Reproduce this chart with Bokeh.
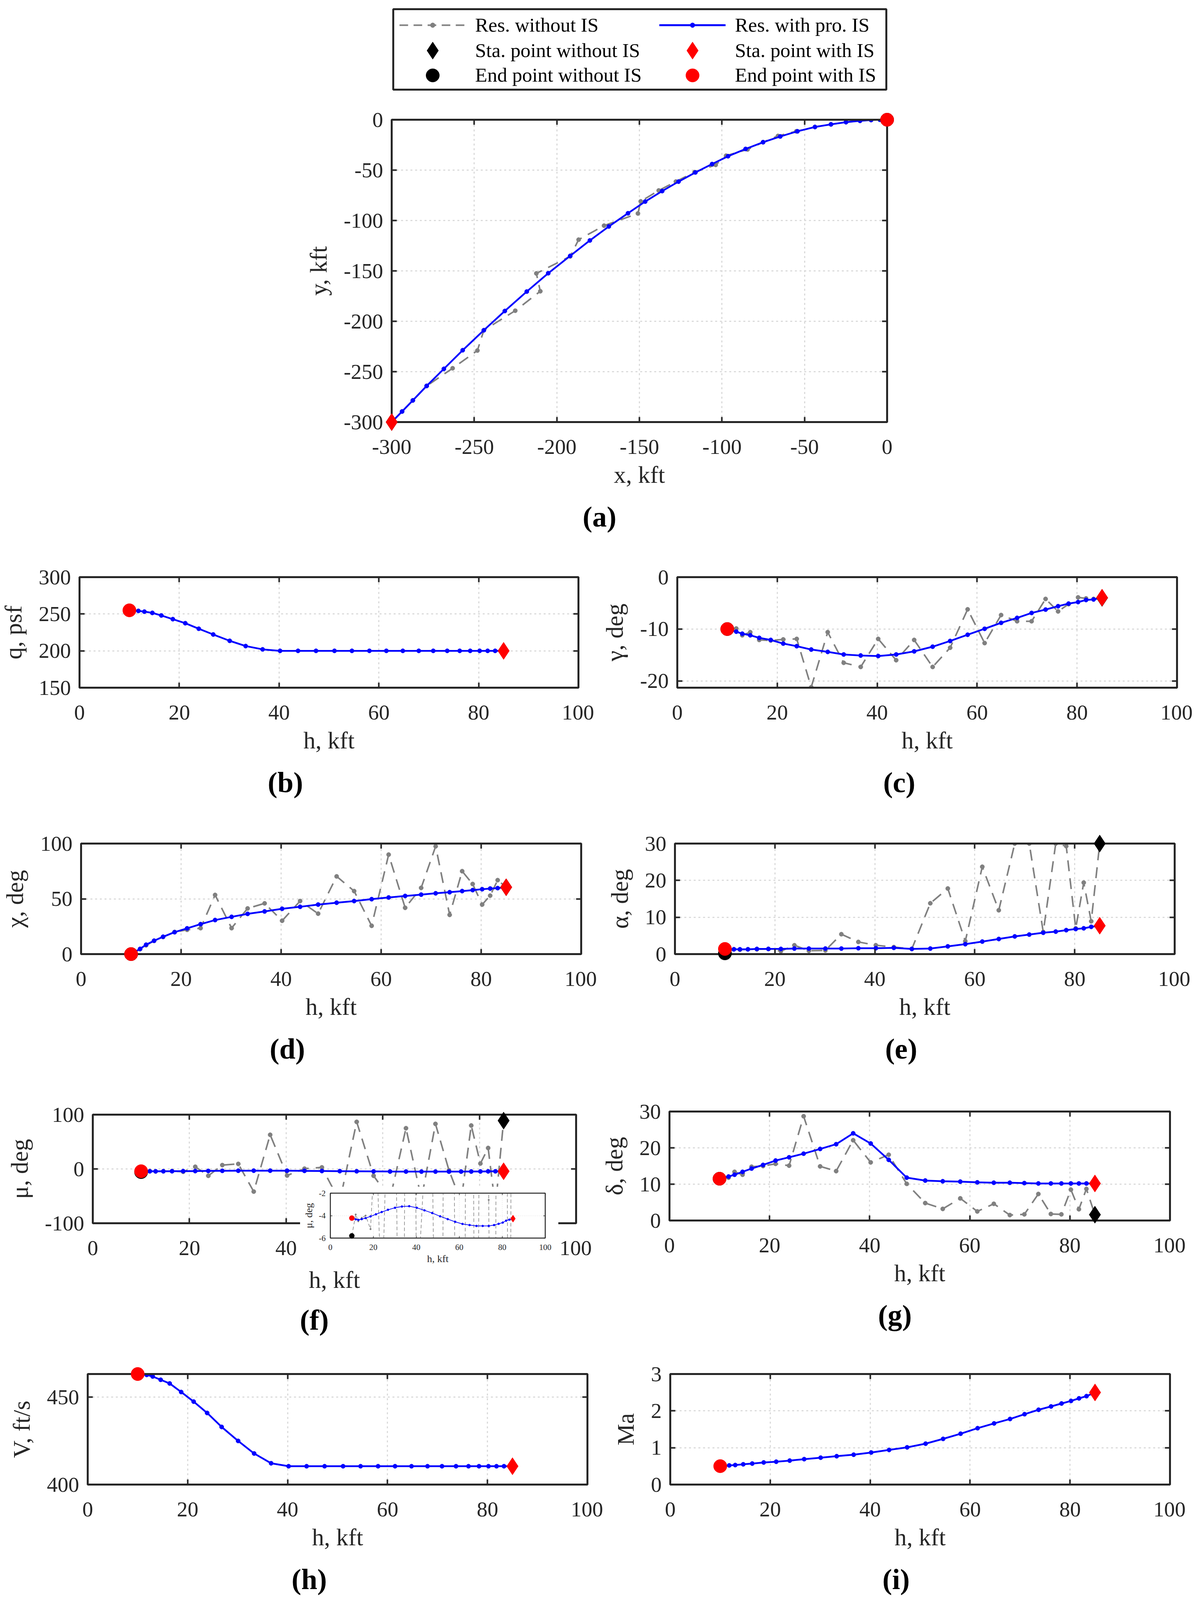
from bokeh.plotting import figure
from bokeh.layouts import column
from bokeh.models import Range1d, FixedTicker, LinearAxis, Legend, LegendItem, GridBox, Spacer
from bokeh.embed import file_html
from bokeh.resources import INLINE

FONT = "Liberation Serif"
INK = "#262626"
BLUE = "#0000ff"
GRAY = "#808080"
RED = "#ff0000"
BLACK = "#000000"
GRID = "#dadada"

# ---------------- data ----------------
# (a) ground track, from start (Sta.) to end point
a_x_pro = [-300, -293.7, -287.2, -278.8, -268.4, -257.0, -244.2, -231.5, -218.2, -205.2,
           -191.9, -180.0, -168.5, -156.9, -146.5, -136.2, -126.3, -116.1, -106.0, -96.3,
           -85.7, -75.1, -64.7, -54.3, -43.7, -34.0, -24.9, -16.4, -9.7, -4.4, 0]
a_y_pro = [-300, -289.5, -278.5, -264.1, -247.2, -228.7, -208.9, -189.8, -170.5, -152.3,
           -135.1, -119.8, -105.9, -92.8, -81.2, -70.8, -61.4, -52.3, -44.0, -36.2,
           -29.0, -22.3, -16.6, -11.5, -7.2, -4.6, -2.4, -1.1, -0.3, 0, 0]
a_x_wo = [-300, -293.7, -287.2, -278.8, -263.1, -248.1, -244.2, -225.2, -210.0, -212.4,
          -191.9, -186.8, -171.4, -150.9, -149.2, -138.3, -127.9, -116.6, -103.8, -97.5,
          -84.5, -75.1, -66.1, -55.0, -43.7, -34.0, -24.9, -16.4, -9.7, 0]
a_y_wo = [-300, -289.5, -278.5, -264.1, -246.6, -229.0, -208.9, -189.5, -170.2, -152.5,
          -135.6, -119.0, -105.1, -93.0, -81.0, -70.2, -61.4, -52.0, -44.8, -35.7,
          -29.5, -22.3, -16.1, -11.5, -7.2, -4.6, -2.4, -1.1, -0.3, 0]

# altitude nodes (end point h=10 first, start point h=85 last)
h_nodes = [10, 11.8, 13.0, 14.6, 16.4, 18.7, 21.2, 23.9, 26.8, 30.1, 33.3, 36.7, 40.2, 43.8,
           47.4, 51.1, 54.6, 58.1, 61.5, 64.8, 68.0, 70.9, 73.7, 76.2, 78.3, 80.2, 81.8, 83.3, 85]

q_pro = [255, 254.2, 253.2, 251.5, 248, 243, 237.5, 230, 222.2, 213.6, 206.5, 202, 200, 200,
         200, 200, 200, 200, 200, 200, 200, 200, 200, 200, 200, 200, 200, 200, 200]

gamma_pro = [-10.0, -10.5, -10.9, -11.2, -11.7, -12.1, -12.8, -13.3, -13.95, -14.4, -14.9, -15.1,
             -15.2, -14.9, -14.3, -13.4, -12.3, -11.1, -9.95, -8.8, -7.85, -6.9, -6.25, -5.6,
             -5.1, -4.8, -4.4, -4.3, -3.95]
gamma_wo = [-10.0, -9.9, -11.2, -10.6, -12.1, -12.2, -12.0, -11.9, -21.2, -10.6, -16.5, -17.3,
            -11.9, -16.0, -12.1, -17.3, -13.6, -6.2, -12.7, -7.3, -8.5, -8.5, -4.2, -6.6,
            -5.2, -3.9, -4.1, -4.2, -4.0]

chi_pro = [0, 4.7, 8.5, 12.1, 15.7, 19.8, 23.3, 27.1, 30.8, 33.7, 36.4, 38.6, 41.0, 42.8, 44.8,
           46.5, 48.0, 49.7, 51.2, 52.6, 53.8, 55.0, 56.0, 57.0, 57.9, 58.7, 59.3, 59.7, 60.5]
chi_wo = [0, 4.5, 8.0, 12.0, 15.5, 20.0, 22.0, 23.5, 53.5, 23.5, 41.3, 45.9, 30.2, 48.0, 36.6,
          70.3, 57.0, 25.6, 90.0, 41.9, 59.9, 97.5, 35.5, 75.0, 63.4, 44.8, 52.9, 66.9, 60.5]

alpha_pro = [1.4, 1.3, 1.3, 1.3, 1.4, 1.4, 1.4, 1.5, 1.5, 1.5, 1.5, 1.6, 1.6, 1.7, 1.4, 1.5,
             2.1, 2.7, 3.4, 4.1, 4.8, 5.3, 5.8, 6.1, 6.5, 6.8, 7.0, 7.4, 7.7]
alpha_wo = [0.2, 1.3, 1.2, 1.3, 1.3, 1.4, 0.8, 2.4, 0.9, 1.0, 5.4, 3.3, 2.4, 1.9, 1.4, 13.8,
            17.8, 3.5, 23.7, 11.9, 30.0, 30.0, 6.0, 30.0, 29.3, 7.0, 19.4, 8.9, 30.0]

mu_pro = [-4.22, -4.33, -4.38, -4.31, -4.22, -4.07, -3.88, -3.68, -3.48, -3.30, -3.19, -3.16,
          -3.30, -3.53, -3.77, -4.06, -4.31, -4.55, -4.74, -4.84, -4.92, -4.92, -4.92, -4.84,
          -4.73, -4.62, -4.45, -4.36, -4.27]
mu_wo = [-5.8, -3.9, -4.5, -4.2, -4.0, -5.2, 4.0, -12.6, 7.1, 9.3, -41.7, 62.9, -12.1, 0.5,
         2.9, -60.0, 86.7, -12.6, -55.0, 75.0, -55.0, 83.0, -2.6, -60.0, 80.0, 10.0, 38.6,
         -70.0, 89.0]

delta_pro = [11.5, 12.1, 12.6, 13.4, 14.3, 15.3, 16.5, 17.4, 18.4, 19.7, 21.0, 24.0, 21.2, 16.7,
             11.8, 11.0, 10.8, 10.7, 10.5, 10.4, 10.4, 10.3, 10.2, 10.2, 10.2, 10.2, 10.2, 10.2, 10.2]
delta_wo = [11.5, 11.8, 13.4, 12.6, 14.8, 15.0, 15.6, 15.1, 28.7, 14.9, 13.6, 22.1, 16.0, 18.1,
            10.1, 4.8, 3.2, 6.1, 2.5, 4.6, 1.5, 1.7, 7.3, 1.8, 1.7, 8.5, 3.1, 8.7, 1.6]

V_pro = [463.3, 462.8, 461.9, 460.0, 457.9, 453.0, 447.5, 441.0, 433.0, 425.0, 417.8, 412.2,
         410.5, 410.5, 410.5, 410.5, 410.5, 410.5, 410.5, 410.5, 410.5, 410.5, 410.5, 410.5,
         410.5, 410.5, 410.5, 410.5, 410.5]

Ma_pro = [0.50, 0.52, 0.53, 0.55, 0.57, 0.60, 0.62, 0.65, 0.69, 0.73, 0.77, 0.81, 0.87, 0.94,
          1.01, 1.11, 1.24, 1.38, 1.53, 1.66, 1.78, 1.91, 2.03, 2.12, 2.20, 2.27, 2.34, 2.40, 2.50]

h_ticks = [0, 20, 40, 60, 80, 100]
a_ticks = [-300, -250, -200, -150, -100, -50, 0]

PAGE = 8
SY = 0.9865   # vertical compaction so the whole page fits the visible viewport
# approximate bold-serif widths (em) used to centre the sub-figure captions
CAP_W = {"a": 0.5, "b": 0.556, "c": 0.444, "d": 0.556, "e": 0.444, "f": 0.333,
         "g": 0.5, "h": 0.556, "i": 0.278}

placed = []


def Y(v):
    return int(round(v * SY))


def place(obj, left, top):
    box = column(obj)
    box.margin = (top, 0, 0, left)
    placed.append(box)


def tick_text(v):
    return str(int(v)) if float(v).is_integer() else str(v)


def style_axis(ax, ticks, fs, standoff, tick_len, lw, tw, label_fs=None, label_standoff=None,
               label=None):
    ax.ticker = FixedTicker(ticks=ticks)
    ax.major_label_overrides = {t: tick_text(t) for t in ticks}
    ax.major_label_text_font = FONT
    ax.major_label_text_font_size = f"{fs}px"
    ax.major_label_text_color = INK
    ax.major_label_standoff = standoff
    ax.major_tick_in = tick_len
    ax.major_tick_out = 0
    ax.major_tick_line_color = INK
    ax.major_tick_line_width = tw
    ax.minor_tick_line_color = None
    ax.axis_line_color = INK
    ax.axis_line_width = lw
    if label is not None:
        ax.axis_label = label
        ax.axis_label_text_font = FONT
        ax.axis_label_text_font_size = f"{label_fs}px"
        ax.axis_label_text_font_style = "normal"
        ax.axis_label_text_color = INK
        ax.axis_label_standoff = label_standoff


def panel(fx, fy, fw, fh, xr, yr, xticks, yticks, xlabel, ylabel, caption=None, cap_x=None,
          mbl=230, mbr=40, mbt=40, mbb=325, fs=55, lfs=62, cfs=74, tick_len=13, lw=5, tw=4,
          xstand=45, ystand=22, xlstand=16, ylstand=28, cap_stand=56, grid_w=3,
          grid_dash="5 7"):
    fy = Y(fy)
    fh = Y(fh)
    kw = {}
    if caption is not None:
        kw = dict(title=caption, title_location="below")
    p = figure(width=mbl + fw + mbr, height=mbt + fh + mbb,
               x_range=Range1d(*xr), y_range=Range1d(*yr),
               output_backend="svg", toolbar_location=None, sizing_mode="fixed",
               min_border_left=mbl, min_border_right=mbr, min_border_top=mbt,
               min_border_bottom=mbb, **kw)
    place(p, fx - PAGE - mbl, fy - PAGE - mbt)
    p.background_fill_color = "white"
    p.border_fill_color = None
    p.outline_line_color = INK
    p.outline_line_width = lw
    style_axis(p.xaxis[0], xticks, fs, xstand, tick_len, lw, tw, lfs, xlstand, xlabel)
    style_axis(p.yaxis[0], yticks, fs, ystand, tick_len, lw, tw, lfs, ylstand, ylabel)
    top = LinearAxis()
    right = LinearAxis()
    style_axis(top, xticks, fs, 0, tick_len, lw, tw)
    style_axis(right, yticks, fs, 0, tick_len, lw, tw)
    for ax in (top, right):
        ax.major_label_text_font_size = "1px"
        ax.major_label_text_color = None
        ax.major_label_standoff = 0
    p.add_layout(top, "above")
    p.add_layout(right, "right")
    p.xgrid.ticker = FixedTicker(ticks=xticks)
    p.ygrid.ticker = FixedTicker(ticks=yticks)
    for g in (p.xgrid[0], p.ygrid[0]):
        g.grid_line_color = GRID
        g.grid_line_width = grid_w
        g.grid_line_dash = grid_dash
    if caption is not None:
        letter = caption.strip("()")
        cw = (0.666 + CAP_W.get(letter, 0.5)) * cfs
        p.title.text_font = FONT
        p.title.text_font_size = f"{cfs}px"
        p.title.text_font_style = "bold"
        p.title.text_color = BLACK
        p.title.align = "left"
        p.title.offset = cap_x - cw / 2 - fx
        p.title.standoff = cap_stand
    return p


def series(p, x, y, color, dash, lw=4.5, ms=11):
    p.line(x, y, line_color=color, line_width=lw, line_dash=dash)
    p.scatter(x, y, marker="circle", size=ms, fill_color=color, line_color=color)


def ends(p, x, y, color, dsize=44, csize=34):
    p.scatter([x[-1]], [y[-1]], marker="diamond", size=dsize, fill_color=color, line_color=color,
              level="overlay")
    p.scatter([x[0]], [y[0]], marker="circle", size=csize, fill_color=color, line_color=color,
              level="overlay")


GDASH = "28 18"

# ---------------- legend ----------------
LB = 40
LX, LY, LW, LH = 1014, Y(31), 1262, Y(209)
lp = figure(width=LW + 2 * LB, height=LH + 2 * LB, x_range=Range1d(0, 1), y_range=Range1d(0, 1),
            output_backend="svg", toolbar_location=None, sizing_mode="fixed", min_border=LB)
place(lp, LX - PAGE - LB, LY - PAGE - LB)
lp.axis.visible = False
lp.grid.visible = False
lp.border_fill_color = None
lp.outline_line_color = INK
lp.outline_line_width = 5
# legend swatches: the series lie outside this box's (0..1) ranges, so only the legend shows them
g_line = lp.line(h_nodes, q_pro, line_color=GRAY, line_width=4, line_dash="22 14")
g_dot = lp.scatter(h_nodes, q_pro, marker="circle", size=11, fill_color=GRAY, line_color=GRAY)
b_line = lp.line(h_nodes, q_pro, line_color=BLUE, line_width=5)
b_dot = lp.scatter(h_nodes, q_pro, marker="circle", size=11, fill_color=BLUE, line_color=BLUE)
k_dia = lp.scatter(h_nodes, q_pro, marker="diamond", size=44, fill_color=BLACK, line_color=BLACK)
k_cir = lp.scatter(h_nodes, q_pro, marker="circle", size=34, fill_color=BLACK, line_color=BLACK)
r_dia = lp.scatter(h_nodes, q_pro, marker="diamond", size=44, fill_color=RED, line_color=RED)
r_cir = lp.scatter(h_nodes, q_pro, marker="circle", size=34, fill_color=RED, line_color=RED)

ROW_C = [Y(42), Y(107), Y(171)]      # row centres measured from the box top
COL_X = [16, 681]
GLYPH_H = [30, 110, 85]              # per-row swatch height (sets the marker size)
TEXT_H = 60                          # height taken by a 51px label line


def add_item(label, renderers, row, col):
    gh = GLYPH_H[row]
    item_h = max(gh, TEXT_H)
    leg = Legend(items=[LegendItem(label=label, renderers=renderers, index=0)],
                 location=(COL_X[col], LH - ROW_C[row] - item_h / 2), orientation="vertical",
                 label_text_font=FONT, label_text_font_size="51px", label_text_color=BLACK,
                 glyph_width=170, glyph_height=gh, label_height=item_h, label_standoff=24,
                 spacing=0, padding=0, margin=0, border_line_alpha=0,
                 background_fill_alpha=0)
    lp.add_layout(leg, "center")


add_item("Res. without IS", [g_line, g_dot], 0, 0)
add_item("Sta. point without IS", [k_dia], 1, 0)
add_item("End point without IS", [k_cir], 2, 0)
add_item("Res. with pro. IS", [b_line, b_dot], 0, 1)
add_item("Sta. point with IS", [r_dia], 1, 1)
add_item("End point with IS", [r_cir], 2, 1)

# ---------------- (a) ----------------
pa = panel(1010, 318, 1268, 785, (-300, 0), (-300, 0), a_ticks, a_ticks, "x, kft", "y, kft",
           "(a)", 1542, mbl=270)
series(pa, a_x_wo, a_y_wo, GRAY, GDASH, lw=4)
series(pa, a_x_pro, a_y_pro, BLUE, "solid")
# start = first point, end = last point
pa.scatter([a_x_wo[0]], [a_y_wo[0]], marker="diamond", size=44, color=BLACK, level="overlay")
pa.scatter([a_x_wo[-1]], [a_y_wo[-1]], marker="circle", size=34, color=BLACK, level="overlay")
pa.scatter([a_x_pro[0]], [a_y_pro[0]], marker="diamond", size=44, color=RED, level="overlay")
pa.scatter([a_x_pro[-1]], [a_y_pro[-1]], marker="circle", size=34, color=RED, level="overlay")

# ---------------- (b) .. (i) ----------------
H = 287
pb = panel(211, 1505, 1277, H, (0, 100), (150, 300), h_ticks, [150, 200, 250, 300],
           "h, kft", "q, psf", "(b)", 738)
series(pb, h_nodes, q_pro, BLUE, "solid")
ends(pb, h_nodes, q_pro, RED)

pc = panel(1741, 1505, 1279, H, (0, 100), (-21.3, 0), h_ticks, [-20, -10, 0],
           "h, kft", "γ, deg", "(c)", 2309)
series(pc, h_nodes, gamma_wo, GRAY, GDASH, lw=4)
series(pc, h_nodes, gamma_pro, BLUE, "solid")
ends(pc, h_nodes, gamma_wo, BLACK)
ends(pc, h_nodes, gamma_pro, RED)

pd = panel(215, 2197, 1280, H, (0, 100), (0, 100), h_ticks, [0, 50, 100],
           "h, kft", "χ, deg", "(d)", 743)
series(pd, h_nodes, chi_wo, GRAY, GDASH, lw=4)
series(pd, h_nodes, chi_pro, BLUE, "solid")
ends(pd, h_nodes, chi_wo, BLACK)
ends(pd, h_nodes, chi_pro, RED)

pe = panel(1735, 2197, 1279, H, (0, 100), (0, 30), h_ticks, [0, 10, 20, 30],
           "h, kft", "α, deg", "(e)", 2314)
series(pe, h_nodes, alpha_wo, GRAY, GDASH, lw=4)
series(pe, h_nodes, alpha_pro, BLUE, "solid")
ends(pe, h_nodes, alpha_wo, BLACK)
ends(pe, h_nodes, alpha_pro, RED)

pf = panel(245, 2900, 1237, 282, (0, 100), (-100, 100), h_ticks, [-100, 0, 100],
           "h, kft", "μ, deg", "(f)", 812, xlstand=26, cap_stand=46)
series(pf, h_nodes, mu_wo, GRAY, GDASH, lw=4)
series(pf, h_nodes, mu_pro, BLUE, "solid")
ends(pf, h_nodes, mu_wo, BLACK)
ends(pf, h_nodes, mu_pro, RED)

pg = panel(1721, 2892, 1281, 283, (0, 100), (0, 30), h_ticks, [0, 10, 20, 30],
           "h, kft", "δ, deg", "(g)", 2298)
series(pg, h_nodes, delta_wo, GRAY, GDASH, lw=4)
series(pg, h_nodes, delta_pro, BLUE, "solid")
ends(pg, h_nodes, delta_wo, BLACK)
ends(pg, h_nodes, delta_pro, RED)

ph = panel(232, 3573, 1279, H, (0, 100), (400, 463.3), h_ticks, [400, 450],
           "h, kft", "V, ft/s", "(h)", 799)
series(ph, h_nodes, V_pro, BLUE, "solid")
ends(ph, h_nodes, V_pro, RED)

pi = panel(1723, 3573, 1279, H, (0, 100), (0, 3), h_ticks, [0, 1, 2, 3],
           "h, kft", "Ma", "(i)", 2301)
series(pi, h_nodes, Ma_pro, BLUE, "solid")
ends(pi, h_nodes, Ma_pro, RED)

# ---------------- inset in (f) ----------------
# white backing that hides the part of (f) lying under the inset
cover_top, cover_bottom = Y(3088), Y(3283)
cover = Spacer(width=1437 - 776, height=cover_bottom - cover_top, sizing_mode="fixed",
               styles={"background-color": "white"})
place(cover, 776 - PAGE, cover_top - PAGE)

pin = panel(853, 3104, 550, 117, (0, 100), (-6, -2), h_ticks, [-6, -4, -2],
            "h, kft", "μ, deg", None, None, mbl=77, mbr=34, mbt=16, mbb=90,
            fs=21, lfs=26, tick_len=5, lw=2, tw=1.5, xstand=16, ystand=12, xlstand=5,
            ylstand=8, grid_w=1, grid_dash="2 3")
pin.line(h_nodes, mu_wo, line_color=GRAY, line_width=1.5, line_dash="9 6")
pin.scatter(h_nodes, mu_wo, marker="circle", size=4, color=GRAY)
pin.line(h_nodes, mu_pro, line_color=BLUE, line_width=1.8)
pin.scatter(h_nodes, mu_pro, marker="circle", size=5, color=BLUE)
ends(pin, h_nodes, mu_wo, BLACK, dsize=18, csize=13)
ends(pin, h_nodes, mu_pro, RED, dsize=18, csize=13)

layout = GridBox(children=[(b, 0, 0) for b in placed])

open("out.html", "w").write(file_html(layout, INLINE))
